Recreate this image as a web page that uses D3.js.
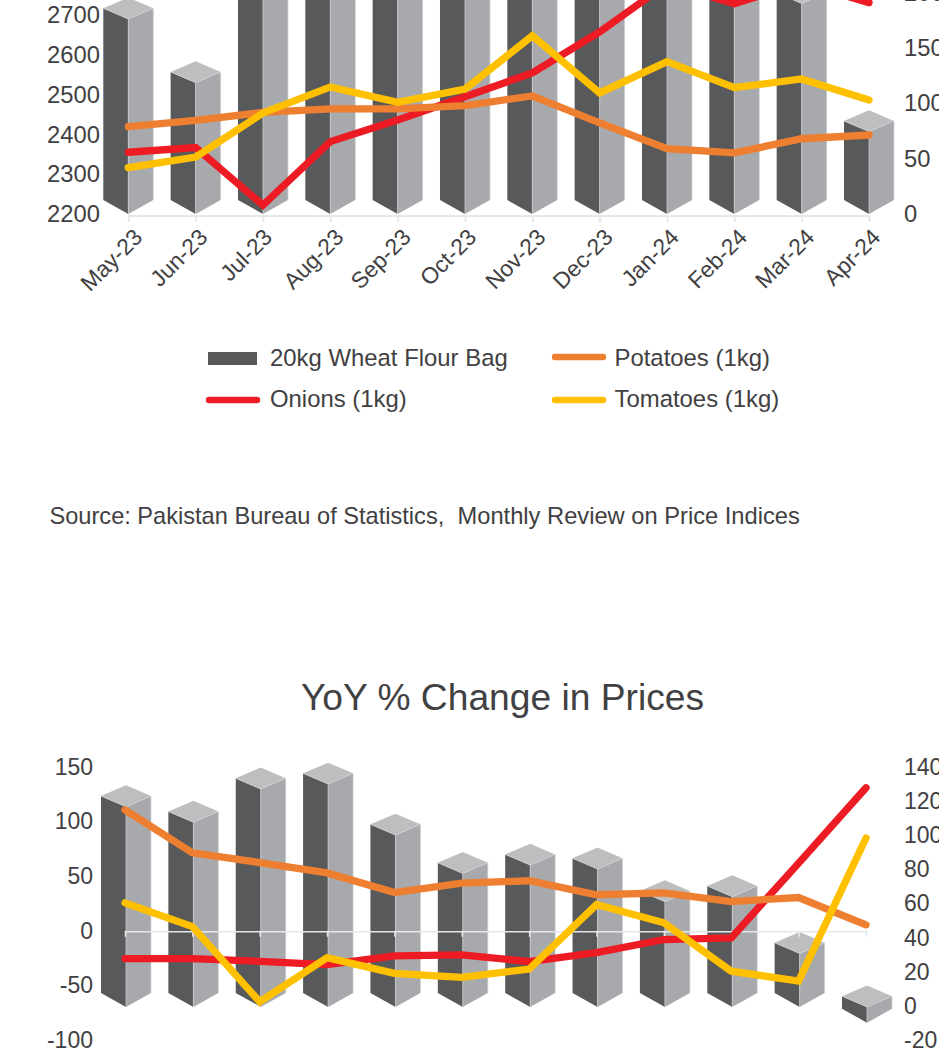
<!DOCTYPE html>
<html><head><meta charset="utf-8">
<script src="https://cdn.jsdelivr.net/npm/d3@7/dist/d3.min.js"></script>
<style>
html,body{margin:0;padding:0;background:#fff;overflow:hidden}
svg{display:block}
text{font-family:"Liberation Sans",Arial,sans-serif;fill:#414042}
</style></head><body><svg id="c" width="939" height="1056"></svg>
<script>
const months = ["May-23","Jun-23","Jul-23","Aug-23","Sep-23","Oct-23","Nov-23","Dec-23","Jan-24","Feb-24","Mar-24","Apr-24"];
// Prices panel
const flourPrice  = [2690,2530,2790,2820,2850,2860,2860,2850,2840,2800,2729,2407];
const onionPrice  = [55.8,60,8,65.4,85,106,127.5,164.5,208,190,209,191];
const potatoPrice = [79,84.6,91.8,95,95,98,106.7,82.3,59,55.2,68,71.4];
const tomatoPrice = [41.9,51.5,91.3,114.8,101,112.8,161,109.4,137.7,114.2,122,103];
const priceLeftTicks  = [2200,2300,2400,2500,2600,2700];
const priceRightTicks = [0,50,100,150,200];
// YoY panel
const flourYoY  = [117.3,108.2,127.7,130.6,100.7,78.2,83.1,80.8,61.6,64.6,31.3,-9.3];
const onionYoY  = [-25.4,-25.4,-28,-31,-23,-22,-28.2,-20,-8,-6.5,62,131];
const potatoYoY = [110.8,71.4,62.5,53,35,43.6,45.8,33,34.8,26.8,30.5,5.5];
const tomatoYoY = [25.6,3.9,-65,-24.7,-39,-42.7,-35,24,7.3,-37,-46,85];
const yoyLeftTicks  = [-100,-50,0,50,100,150];
const yoyRightTicks = [-20,0,20,40,60,80,100,120,140];
const legendItems = ["20kg Wheat Flour Bag","Potatoes (1kg)","Onions (1kg)","Tomatoes (1kg)"];
const sourceParts = ["Source: Pakistan Bureau of Statistics,","Monthly Review on Price Indices"];
const chartTitle = "YoY % Change in Prices";

const RED="#ed1c24",ORANGE="#ee7f31",YELLOW="#ffc000";
const svg=d3.select("#c");
const plain=d=>String(d);

function cuboids(g,x,y,values,zeroValue,dx,dy){
  const hw=25,dTop=10.7,dBot=14;
  values.forEach((v,i)=>{
    const cx=x(months[i])+dx;
    const zero=y(zeroValue);
    const yt=Math.min(y(v),zero)+dy, yb=Math.max(y(v),zero)+dy;
    const b=g.append("g");
    const poly=(pts,f)=>b.append("polygon").attr("points",pts.map(p=>p.join(",")).join(" ")).attr("fill",f);
    poly([[cx-hw,yt-dTop],[cx,yt],[cx,yb],[cx-hw,yb-dBot]],"#58595b");
    poly([[cx,yt],[cx+hw,yt-dTop],[cx+hw,yb-dBot],[cx,yb]],"#a7a9ac");
    poly([[cx-hw,yt-dTop],[cx,yt-2*dTop],[cx+hw,yt-dTop],[cx,yt]],"#bcbec0");
    b.append("path").attr("d",`M${cx-hw},${yt-dTop}L${cx},${yt}L${cx+hw},${yt-dTop}V${yb-dBot}M${cx},${yt}V${yb}`)
      .attr("stroke","#d1d3d4").attr("fill","none").attr("stroke-width",.7);
  });
}
function series(g,x,y,values,color){
  const line=d3.line().x((d,i)=>x(months[i])).y(d=>y(d));
  g.append("path").attr("d",line(values)).attr("fill","none").attr("stroke",color)
   .attr("stroke-width",7.3).attr("stroke-linecap","round").attr("stroke-linejoin","miter");
}
function numAxis(axis,tx,size){
  const g=svg.append("g").attr("transform",`translate(${tx},0)`).call(axis.tickFormat(plain));
  g.select(".domain").remove();
  g.selectAll("text").style("font-size",size+"px").attr("fill","#414042");
  return g;
}

// ---------- top panel
const x1=d3.scalePoint().domain(months).range([128.3,869]);
const yL1=d3.scaleLinear().domain([2200,2700]).range([214,15]);
const yR1=d3.scaleLinear().domain([0,150]).range([214,48]);
cuboids(svg.append("g"),x1,yL1,flourPrice,2200,0,0);
const ax1=svg.append("g").attr("transform","translate(0,215)").call(d3.axisBottom(x1).tickSize(7).tickPadding(8));
ax1.selectAll(".domain,line").attr("stroke","#e6e7e8").attr("stroke-width",2);
ax1.select(".domain").attr("d","M128.3,1H869");
ax1.selectAll("text").style("font-size","22.8px").attr("text-anchor","middle").attr("y",0).attr("dy",".35em")
  .each(function(){
    const half=this.getComputedTextLength()*Math.SQRT1_2/2;
    d3.select(this).attr("transform",`translate(-17.5,${18+half}) rotate(-45)`);
  });
[[onionPrice,RED],[potatoPrice,ORANGE],[tomatoPrice,YELLOW]].forEach(([v,c])=>series(svg,x1,yR1,v,c));
numAxis(d3.axisLeft(yL1).tickValues(priceLeftTicks).tickSize(0).tickPadding(0),100,23.8);
numAxis(d3.axisRight(yR1).tickValues(priceRightTicks).tickSize(0).tickPadding(0),904,23.8);

// ---------- legend
const lg=svg.append("g");
lg.append("rect").attr("x",208).attr("y",352).attr("width",49).attr("height",13).attr("fill","#58595b");
[[209,400,RED],[555,357,ORANGE],[555,400,YELLOW]].forEach(([a,y,c])=>
  lg.append("line").attr("x1",a).attr("x2",a+48).attr("y1",y).attr("y2",y).attr("stroke",c).attr("stroke-width",6.4).attr("stroke-linecap","round"));
[[270,365.5],[614.5,365.5],[270,407],[614.5,407]].forEach(([a,y],i)=>
  lg.append("text").attr("x",a).attr("y",y).style("font-size","23.9px").text(legendItems[i]));

// ---------- source
svg.append("text").attr("x",49.5).attr("y",524).style("font-size","23.6px").text(sourceParts[0]);
svg.append("text").attr("x",457.5).attr("y",524).style("font-size","23.7px").text(sourceParts[1]);

// ---------- bottom panel
svg.append("text").attr("x",502.5).attr("y",710).attr("text-anchor","middle").style("font-size","37.2px").text(chartTitle);
const x2=d3.scalePoint().domain(months).range([125,866]);
const yL2=d3.scaleLinear().domain([-100,150]).range([1040,767]);
const yR2=d3.scaleLinear().domain([-20,140]).range([1040,767]);
cuboids(svg.append("g"),x2,yR2,flourYoY,0,1,1);
const ax2=svg.append("g").attr("transform",`translate(0,${yL2(0)})`).call(d3.axisBottom(x2).tickSize(6).tickFormat(""));
ax2.selectAll(".domain,line").attr("stroke","#e6e7e8").attr("stroke-width",1.6);
ax2.select(".domain").attr("d","M125,1H866");
[[onionYoY,RED],[potatoYoY,ORANGE],[tomatoYoY,YELLOW]].forEach(([v,c])=>series(svg,x2,yL2,v,c));
numAxis(d3.axisLeft(yL2).tickValues(yoyLeftTicks).tickSize(0).tickPadding(0),93,23);
numAxis(d3.axisRight(yR2).tickValues(yoyRightTicks).tickSize(0).tickPadding(0),904,23);
</script></body></html>
